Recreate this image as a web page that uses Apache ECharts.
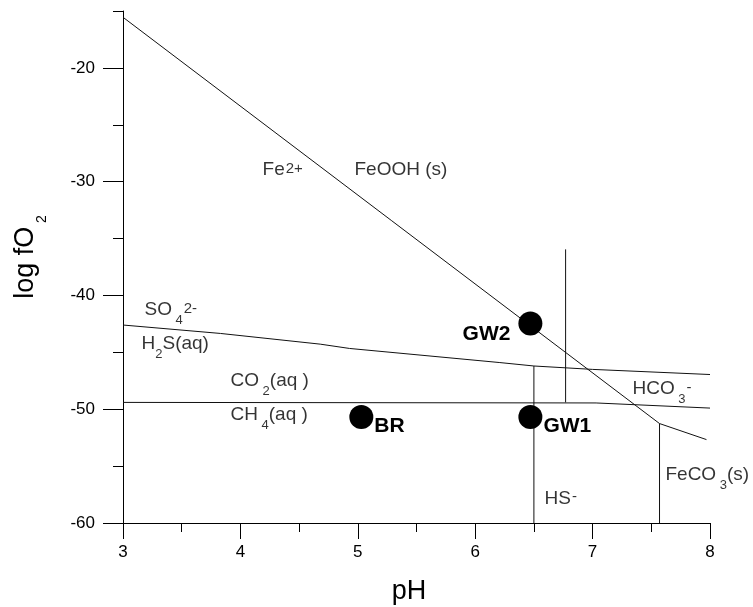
<!DOCTYPE html>
<html>
<head>
<meta charset="utf-8">
<script src="https://cdn.jsdelivr.net/npm/echarts@6/dist/echarts.min.js"></script>
<style>
  html, body { margin: 0; padding: 0; background: #fff; }
  #chart { width: 753px; height: 607px; }
</style>
</head>
<body>
<div id="chart"></div>
<script>
// stability boundaries, [pH, log fO2]
var feBoundary = [[3, -15.55], [7.57, -51.26], [7.97, -52.67]];
var so4Boundary = [[3, -42.6], [3.83, -43.34], [4.68, -44.28], [4.93, -44.66], [6.21, -45.9], [6.5, -46.2], [7.0, -46.5], [8, -46.95]];
var co2Boundary = [[3, -49.4], [7.03, -49.45], [8, -49.9]];
var hsBoundary = [[6.5, -46.2], [6.5, -60]];
var hco3Boundary = [[6.77, -35.95], [6.77, -49.4]];
var feco3Boundary = [[7.57, -51.26], [7.57, -60]];

// samples
var sampleNames = ['GW2', 'GW1', 'BR'];
var samplePh = [6.47, 6.47, 5.03];
var sampleLogfo2 = [-42.46, -50.68, -50.68];

// field labels (top-left anchor, data units)
var fieldText = [
  '{b|Fe}{sup|2+}',
  '{b|FeOOH (s)}',
  '{b|SO}{sub| 4}{sup|2-}',
  '{b|H}{sub|2}{b|S(aq)}',
  '{b|CO}{sub| 2}{b|(aq )}',
  '{b|CH}{sub| 4}{b|(aq )}',
  '{b|HCO}{sub| 3}{sup|-}',
  '{b|FeCO}{sub| 3}{b|(s)}',
  '{b|HS}{sup|-}'
];
var fieldPh = [4.193, 4.976, 3.187, 3.162, 3.92, 3.92, 7.344, 7.625, 6.595];
var fieldLogfo2 = [-28.19, -28.19, -40.5, -43.49, -46.75, -49.74, -47.45, -55.01, -57.04];

var yMajorTicks = [-60, -50, -40, -30, -20];
var yMinorTicks = [-55, -45, -35, -25, -15];

var font = 'Arial, "Liberation Sans", sans-serif';
var chart = echarts.init(document.getElementById('chart'));

function boundary(data) {
  return {
    type: 'line',
    data: data,
    symbol: 'none',
    silent: true,
    animation: false,
    lineStyle: { color: '#111', width: 1 },
    z: 2
  };
}

var fieldData = fieldText.map(function (t, i) {
  return { value: [fieldPh[i], fieldLogfo2[i]], text: t };
});

var sampleData = sampleNames.map(function (n, i) {
  var left = n === 'GW2';
  return {
    name: n,
    value: [samplePh[i], sampleLogfo2[i]],
    label: left
      ? { position: 'left', distance: 8, offset: [0, 11] }
      : { position: 'right', distance: 1, offset: [0, 9] }
  };
});

var option = {
  animation: false,
  grid: { left: 123, right: 43, top: 11, bottom: 84 },
  xAxis: {
    type: 'value',
    min: 3,
    max: 8,
    interval: 1,
    axisLine: { show: true, onZero: false, lineStyle: { color: '#000', width: 1 } },
    axisTick: { show: true, length: 16, lineStyle: { color: '#000' } },
    minorTick: { show: true, splitNumber: 2, length: 9, lineStyle: { color: '#000' } },
    axisLabel: { color: '#000', fontSize: 17, fontFamily: font, margin: 21 },
    splitLine: { show: false }
  },
  yAxis: [{
    type: 'value',
    min: -60,
    max: -15,
    interval: 5,
    position: 'left',
    axisLine: { show: true, onZero: false, lineStyle: { color: '#000', width: 1 } },
    axisTick: { show: true, length: 20, customValues: yMajorTicks, lineStyle: { color: '#000' } },
    axisLabel: { customValues: yMajorTicks, color: '#000', fontSize: 17, fontFamily: font, margin: 28 },
    splitLine: { show: false }
  }, {
    type: 'value',
    min: -60,
    max: -15,
    interval: 5,
    position: 'left',
    axisLine: { show: false },
    axisTick: { show: true, length: 10, customValues: yMinorTicks, lineStyle: { color: '#000' } },
    axisLabel: { show: false },
    splitLine: { show: false }
  }],
  graphic: [{
    type: 'text',
    x: 409,
    y: 592,
    style: { text: 'pH', fontSize: 27, fontFamily: font, fill: '#000', align: 'center', verticalAlign: 'middle' }
  }, {
    type: 'text',
    x: 12,
    y: 257,
    rotation: Math.PI / 2,
    style: {
      text: '{b|log fO}{sub| 2}',
      align: 'center',
      verticalAlign: 'top',
      rich: {
        b: { fontSize: 27, fontFamily: font, fill: '#000', lineHeight: 30, verticalAlign: 'top' },
        sub: { fontSize: 14, fontFamily: font, fill: '#000', lineHeight: 14, verticalAlign: 'top', padding: [23, 0, 0, 0] }
      }
    }
  }],
  series: [
    boundary(feBoundary),
    boundary(so4Boundary),
    boundary(co2Boundary),
    boundary(hsBoundary),
    boundary(hco3Boundary),
    boundary(feco3Boundary),
    {
      type: 'scatter',
      data: fieldData,
      symbolSize: 1,
      silent: true,
      itemStyle: { color: 'rgba(0,0,0,0)' },
      label: {
        show: true,
        position: [0, 0],
        align: 'left',
        verticalAlign: 'top',
        formatter: function (p) { return p.data.text; },
        rich: {
          b: { fontSize: 19, fontFamily: font, color: '#000', lineHeight: 22, verticalAlign: 'top' },
          sub: { fontSize: 13, fontFamily: font, color: '#000', lineHeight: 13, verticalAlign: 'top', padding: [13, 0, 0, 0] },
          sup: { fontSize: 15, fontFamily: font, color: '#000', lineHeight: 15, verticalAlign: 'top', padding: [1, 0, 0, 1] }
        }
      },
      z: 3
    },
    {
      type: 'scatter',
      data: sampleData,
      symbol: 'circle',
      symbolSize: 24,
      silent: true,
      itemStyle: { color: '#000', opacity: 1 },
      label: {
        show: true,
        formatter: '{b}',
        color: '#000',
        fontSize: 21,
        fontWeight: 'bold',
        fontFamily: font
      },
      z: 4
    }
  ]
};

chart.setOption(option);
</script>
</body>
</html>
